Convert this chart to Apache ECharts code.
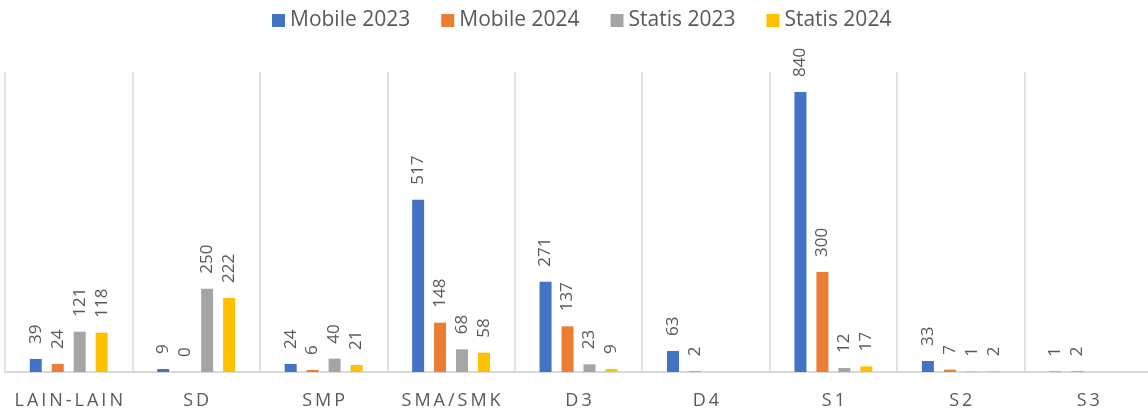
<!DOCTYPE html>
<html>
<head>
<meta charset="utf-8">
<script src="https://cdn.jsdelivr.net/npm/echarts@6/dist/echarts.min.js"></script>
<style>html,body{margin:0;padding:0;background:#fff;overflow:hidden}#c{width:1160px;height:414px}</style>
</head>
<body>
<div id="c"></div>
<script>
const categories = ['LAIN-LAIN', 'SD', 'SMP', 'SMA/SMK', 'D3', 'D4', 'S1', 'S2', 'S3'];
const seriesNames = ['Mobile 2023', 'Mobile 2024', 'Statis 2023', 'Statis 2024'];
const mobile2023 = [39, 9, 24, 517, 271, 63, 840, 33, 1];
const mobile2024 = [24, 0, 6, 148, 137, 2, 300, 7, 2];
const statis2023 = [121, 250, 40, 68, 23, null, 12, 1, null];
const statis2024 = [118, 222, 21, 58, 9, null, 17, 2, null];
const colors = ['#4472C4', '#ED7D31', '#A5A5A5', '#FFC000'];
const FONT = '"Open Sans", "Noto Sans", sans-serif';
const TXT = '#595959';

const chart = echarts.init(document.getElementById('c'));
const data = [mobile2023, mobile2024, statis2023, statis2024];
chart.setOption({
  animation: false,
  color: colors,
  textStyle: { fontFamily: FONT },
  legend: {
    top: 10,
    left: 272,
    padding: 0,
    itemWidth: 13,
    itemHeight: 13,
    itemGap: 31,
    icon: 'rect',
    textStyle: { color: TXT, fontSize: 21, fontFamily: FONT },
    data: seriesNames
  },
  grid: { left: 5, top: 72, width: 1147, height: 300, containLabel: false },
  xAxis: {
    type: 'category',
    data: categories,
    axisLine: { show: true, lineStyle: { color: '#D9D9D9', width: 2 } },
    axisTick: { show: false },
    splitLine: { show: true, interval: 0, lineStyle: { color: '#D9D9D9', width: 1.5 } },
    axisLabel: {
      interval: 0,
      margin: 20,
      color: TXT,
      fontSize: 18,
      fontFamily: FONT,
      formatter: v => v.split('').join('\u2009')
    }
  },
  yAxis: {
    type: 'value',
    min: 0,
    max: 900,
    show: false,
    splitLine: { show: false }
  },
  series: seriesNames.map((n, i) => ({
    name: n,
    type: 'bar',
    data: data[i],
    barWidth: 12,
    barGap: '83%',
    label: {
      show: true,
      position: 'top',
      rotate: 90,
      align: 'left',
      verticalAlign: 'middle',
      distance: 15,
      color: TXT,
      fontSize: 17,
      fontFamily: FONT
    }
  }))
});
</script>
</body>
</html>
